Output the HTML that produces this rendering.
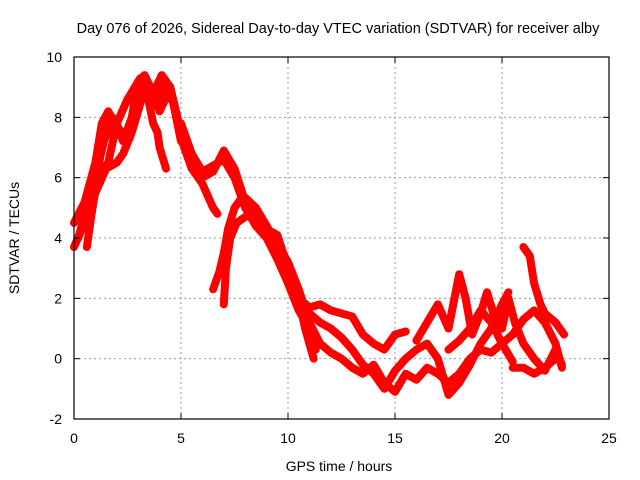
<!DOCTYPE html>
<html><head><meta charset="utf-8"><style>
body{margin:0;background:#fff;}
svg{display:block;font-family:"Liberation Sans",sans-serif;}
</style></head><body>
<svg id="chart" width="640" height="480">
<text x="338" y="33" font-size="14.5" text-anchor="middle">Day 076 of 2026, Sidereal Day-to-day VTEC variation (SDTVAR) for receiver alby</text>
<g id="grid"></g>
<g id="series"></g>
<rect x="74" y="57" width="535" height="362" fill="none" stroke="#000" stroke-width="1.2"/>
<g id="ticks"></g>
<text x="339" y="471" font-size="14" text-anchor="middle">GPS time / hours</text>
<text transform="translate(19,238) rotate(-90)" font-size="14" text-anchor="middle">SDTVAR / TECUs</text>
</svg>
<script>
const xTicks=[0,5,10,15,20,25];
const yTicks=[-2,0,2,4,6,8,10];
const s1=[[0,4.5],[0.5,5.2],[1,6.5],[1.3,7.8],[1.6,8.2],[2,7.7],[2.3,7.2],[2.7,8.0],[3,9.2],[3.3,9.4],[3.7,8.8],[4.1,9.4],[4.5,9.0],[5,7.5],[5.5,6.5],[6,6.0],[6.5,6.2],[7,6.9],[7.5,6.3],[8,5.2],[8.5,4.5],[9,4.2],[9.5,3.5],[10,2.7],[10.5,2.0],[11,1.7],[11.5,1.8],[12,1.6],[12.5,1.5],[13,1.4],[13.5,0.8],[14,0.5],[14.5,0.3],[15,0.8],[15.5,0.9]];
const s2=[[0,3.7],[0.5,4.5],[1,5.5],[1.5,6.3],[2,6.5],[2.3,6.8],[2.7,7.5],[3.2,8.7],[3.6,8.9],[4,8.2],[4.4,8.8],[4.7,8.4],[5,7.3],[5.5,6.3],[6,5.8],[6.5,5.0],[6.7,4.8]];
const s3=[[0.6,3.7],[0.8,4.7],[1,5.6],[1.2,6.2],[1.6,6.5],[2,7.8],[2.5,8.6],[3.1,9.3],[3.5,8.5],[3.7,7.8],[3.9,7.5],[4,7.0],[4.3,6.3]];
const s4=[[6.5,2.3],[6.8,2.9],[7,3.5],[7.2,4.3],[7.5,5.0],[7.9,5.4],[8.5,5.0],[9,4.4],[9.5,3.8],[10,3.2],[10.5,2.3],[11,1.2],[11.5,0.5],[12,0.2],[12.5,0.0],[13,-0.3],[13.5,-0.5],[14,-0.2],[14.5,-0.8],[15,-1.1],[15.5,-0.5],[16,-0.7],[16.5,-0.3],[17,-0.5],[17.5,-0.8],[18,-0.5],[18.5,0.0],[19,0.3],[19.5,0.2],[20,0.5],[20.5,0.8],[21,1.3],[21.5,1.6],[22,1.2],[22.5,0.5],[22.8,-0.3]];
const s5=[[7,1.8],[7.1,3],[7.3,4.0],[7.6,4.5],[8,4.7]];
const s6=[[10,3.0],[10.5,2.0],[10.8,1.0],[11.2,0.0]];
const s7=[[11,1.5],[11.5,1.2],[12,1.0],[12.5,0.7],[13,0.3],[13.5,-0.2],[14,-0.5],[14.5,-1.0],[15,-0.4],[15.5,0.0],[16,0.3],[16.5,0.5],[17,0.0],[17.5,-1.2],[18,-0.8],[18.5,-0.2],[19,0.5],[19.5,1.0],[20,1.8],[20.3,2.2]];
const s8=[[16,0.6],[16.5,1.2],[17,1.8],[17.5,1.0],[18,2.8],[18.3,2.0],[18.6,0.8],[19,1.5],[19.3,2.2],[19.6,1.5],[20,1.0],[20.3,2.0],[20.6,1.2],[21,0.5],[21.5,0.0],[22,-0.4],[22.5,0.3],[22.8,-0.2]];
const s9=[[21,3.7],[21.3,3.4],[21.5,2.5],[21.8,1.8],[22,1.5],[22.5,1.2],[22.9,0.8]];
const s10=[[20.5,-0.3],[21,-0.3],[21.5,-0.5],[22,-0.3],[22.5,0.0]];
const s11=[[17.5,0.3],[18,0.6],[18.5,1.0],[19,1.6],[19.5,1.2],[20,0.5],[20.5,-0.1]];
const s12=[[5,7.8],[5.5,6.8],[6,6.2],[6.5,6.4],[7,6.6],[7.5,6.0],[8,5.0],[8.5,4.4],[9,4.0],[9.5,3.3],[10,2.5],[10.5,1.6],[11,1.0],[11.3,0.3]];
const s13=[[8.5,4.6],[9,4.3],[9.5,4.1],[10,3.0],[10.5,2.2]];
const s14=[[0.2,4.0],[0.6,5.0],[1,6.0],[1.4,7.2],[1.8,8.0],[2.2,7.5],[2.6,7.3],[3,8.5],[3.4,9.0],[3.8,8.4],[4.2,9.0],[4.6,8.6],[5,7.2]];
const allSeries=[s1,s2,s3,s4,s5,s6,s7,s8,s9,s10,s11,s12,s13,s14];

const NS="http://www.w3.org/2000/svg";
const X0=74,X1=609,Y0=419,Y1=57;
function xs(v){return X0+(v-0)/(25-0)*(X1-X0);}
function ys(v){return Y0-(v+2)/(12)*(Y0-Y1);}
function mk(t,a){const e=document.createElementNS(NS,t);for(const k in a)e.setAttribute(k,a[k]);return e;}
const grid=document.getElementById('grid'),ticks=document.getElementById('ticks'),ser=document.getElementById('series');
xTicks.forEach(v=>{
  const x=xs(v);
  if(v>0&&v<25){const g=mk('line',{x1:x,x2:x,y1:Y1,y2:Y0,stroke:'#999','stroke-dasharray':'2,3'});
  
  
  grid.appendChild(g);}
  const t=mk('line',{x1:x,x2:x,y1:Y0,y2:Y0-6,stroke:'#000'});ticks.appendChild(t);
  const t2=mk('line',{x1:x,x2:x,y1:Y1,y2:Y1+6,stroke:'#000'});ticks.appendChild(t2);
  const l=mk('text',{x:x,y:443,'font-size':14,'text-anchor':'middle'});l.textContent=v;
  
  
  ticks.appendChild(l);
});
yTicks.forEach(v=>{
  const y=ys(v);
  if(v>-2&&v<10){const g=mk('line',{x1:X0,x2:X1,y1:y,y2:y,stroke:'#999','stroke-dasharray':'2,3'});
  
  
  grid.appendChild(g);}
  const t=mk('line',{x1:X0,x2:X0+6,y1:y,y2:y,stroke:'#000'});ticks.appendChild(t);
  const t2=mk('line',{x1:X1,x2:X1-6,y1:y,y2:y,stroke:'#000'});ticks.appendChild(t2);
  const l=mk('text',{x:62,y:y+5,'font-size':14,'text-anchor':'end'});l.textContent=v;
  
  
  ticks.appendChild(l);
});
allSeries.forEach((s,i)=>{
  const p=mk('polyline',{points:s.map(d=>xs(d[0])+','+ys(d[1])).join(' '),fill:'none',stroke:'#ff0000','stroke-width':8,'stroke-linejoin':'round','stroke-linecap':'round'});
  
  
  ser.appendChild(p);
});
</script>
</body></html>
